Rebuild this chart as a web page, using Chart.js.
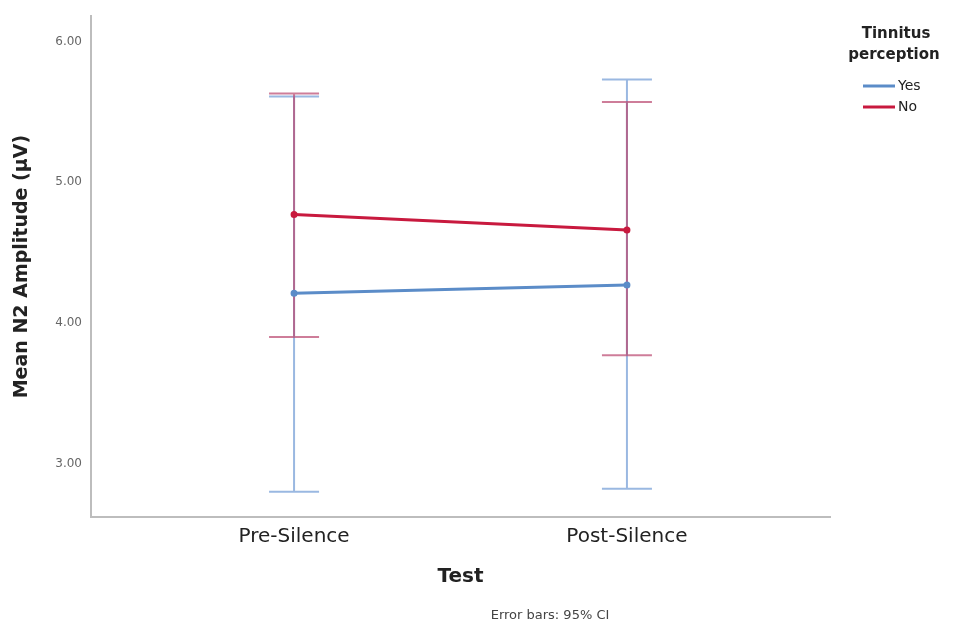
<!DOCTYPE html>
<html>
<head>
<meta charset="utf-8">
<script src="https://cdn.jsdelivr.net/npm/chart.js@4.4.1/dist/chart.umd.min.js"></script>
<style>
  html, body { margin: 0; padding: 0; background: #fff; }
  #wrap { width: 956px; height: 626px; }
</style>
</head>
<body>
<div id="wrap"><canvas id="chart" width="956" height="626"></canvas></div>
<script>
// categories on the x axis
var categories = ["Pre-Silence", "Post-Silence"];
var yTicks = [3, 4, 5, 6];

// group means
var yesMean = [4.21, 4.27];
var noMean = [4.77, 4.66];

// 95% CI bounds
var yesLow = [2.80, 2.82];
var yesHigh = [5.61, 5.73];
var noLow = [3.90, 3.77];
var noHigh = [5.63, 5.57];

var blueLine = "#5b8cc8";
var redLine = "#c8193e";
var fam = "'DejaVu Sans', sans-serif";

function toPoints(arr) {
    return arr.map(function(v, i) { return { x: i + 1, y: v }; });
}

// error bars drawn from the scales
var errorBars = {
    id: "errorBars",
    beforeDatasetsDraw: function(chart) {
        var ctx = chart.ctx;
        var xs = chart.scales.x, ys = chart.scales.y;
        var groups = [
            { low: yesLow, high: yesHigh, color: "rgba(120,160,215,0.75)" },
            { low: noLow, high: noHigh, color: "rgba(185,70,110,0.7)" }
        ];
        ctx.save();
        groups.forEach(function(g) {
            ctx.strokeStyle = g.color;
            ctx.lineWidth = 2;
            for (var i = 0; i < categories.length; i++) {
                var px = xs.getPixelForValue(i + 1);
                var top = ys.getPixelForValue(g.high[i]);
                var bot = ys.getPixelForValue(g.low[i]);
                ctx.beginPath();
                ctx.moveTo(px, top); ctx.lineTo(px, bot);
                ctx.moveTo(px - 25, top); ctx.lineTo(px + 25, top);
                ctx.moveTo(px - 25, bot); ctx.lineTo(px + 25, bot);
                ctx.stroke();
            }
        });
        ctx.restore();
    },
    afterDraw: function(chart) {
        var ctx = chart.ctx;
        ctx.save();
        // legend
        ctx.fillStyle = "#222";
        ctx.font = "bold 15px " + fam;
        ctx.textAlign = "center";
        ctx.textBaseline = "middle";
        ctx.fillText("Tinnitus", 896, 34);
        ctx.fillText("perception", 894, 55);
        var items = [["Yes", blueLine, 86], ["No", redLine, 107]];
        items.forEach(function(it) {
            ctx.strokeStyle = it[1];
            ctx.lineWidth = 3;
            ctx.beginPath();
            ctx.moveTo(863, it[2]); ctx.lineTo(895, it[2]);
            ctx.stroke();
            ctx.fillStyle = "#222";
            ctx.font = "14px " + fam;
            ctx.textAlign = "left";
            ctx.fillText(it[0], 898, it[2]);
        });
        // footnote
        ctx.fillStyle = "#444";
        ctx.font = "13px " + fam;
        ctx.textAlign = "center";
        ctx.fillText("Error bars: 95% CI", 550, 616);
        ctx.restore();
    }
};

var ctx = document.getElementById("chart");

var chart = new Chart(ctx, {
    type: "line",
    data: {
        datasets: [
            {
                label: "Yes",
                data: toPoints(yesMean),
                borderColor: blueLine,
                backgroundColor: blueLine,
                borderWidth: 3,
                pointRadius: 2,
                fill: false,
                tension: 0
            },
            {
                label: "No",
                data: toPoints(noMean),
                borderColor: redLine,
                backgroundColor: redLine,
                borderWidth: 3,
                pointRadius: 2,
                fill: false,
                tension: 0
            }
        ]
    },
    options: {
        responsive: false,
        animation: false,
        layout: { padding: { top: 15, right: 126, bottom: 34, left: 0 } },
        plugins: {
            legend: { display: false },
            tooltip: { enabled: false }
        },
        scales: {
            x: {
                type: "linear",
                min: 0.39,
                max: 2.61,
                afterBuildTicks: function(s) { s.ticks = [{ value: 1 }, { value: 2 }]; },
                afterFit: function(s) { s.height = 75; },
                grid: { display: false, drawTicks: false },
                border: { color: "#bdbdbd", width: 2 },
                ticks: {
                    padding: 8,
                    color: "#222",
                    font: { size: 20, family: fam },
                    callback: function(v) { return categories[v - 1]; }
                },
                title: {
                    display: true,
                    text: "Test",
                    color: "#222",
                    font: { size: 20, weight: "bold", family: fam },
                    padding: { top: 4, bottom: 3 }
                }
            },
            y: {
                min: 2.62,
                max: 6.18,
                afterBuildTicks: function(s) { s.ticks = yTicks.map(function(v) { return { value: v }; }); },
                afterFit: function(s) { s.width = 91; },
                grid: { display: false, drawTicks: false },
                border: { color: "#bdbdbd", width: 2 },
                ticks: {
                    padding: 9,
                    color: "#666",
                    font: { size: 12, family: fam },
                    callback: function(v) { return v.toFixed(2); }
                },
                title: {
                    display: true,
                    text: "Mean N2 Amplitude (µV)",
                    color: "#222",
                    font: { size: 19, weight: "bold", family: fam },
                    padding: { top: 11, bottom: 0 }
                }
            }
        }
    },
    plugins: [errorBars]
});
</script>
</body>
</html>
